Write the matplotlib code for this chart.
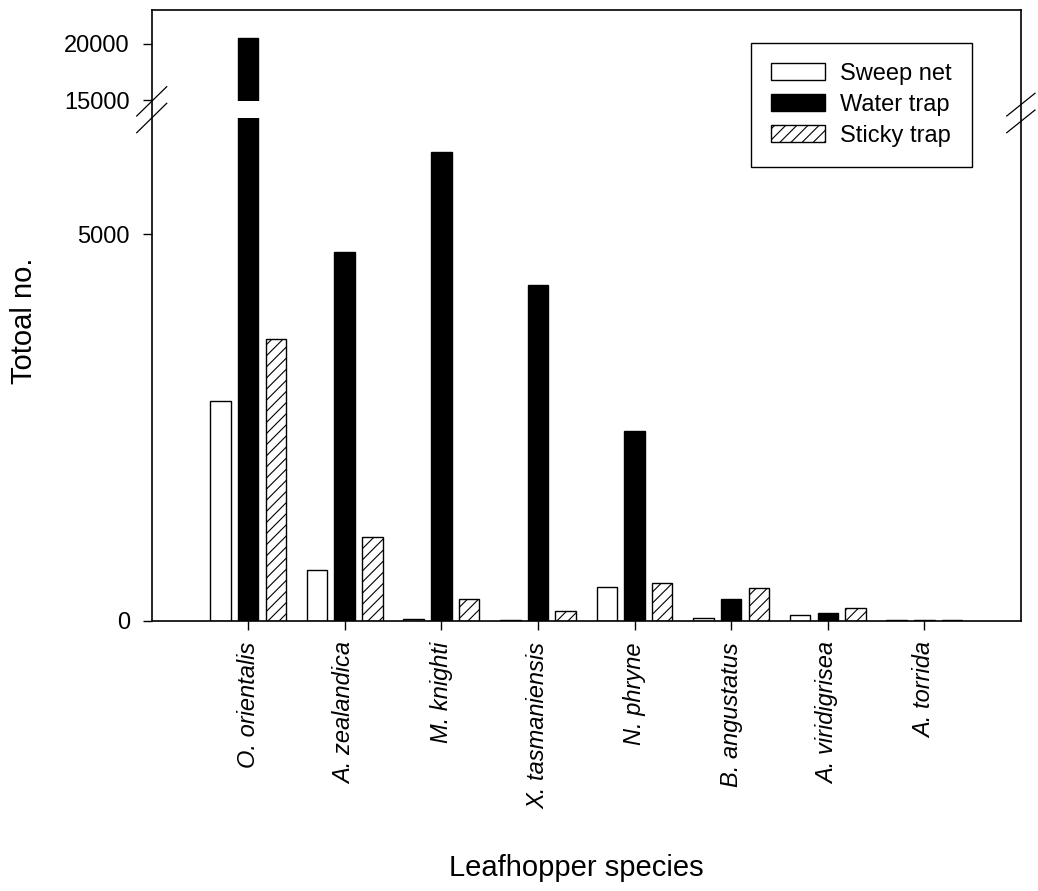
import numpy as np
import matplotlib
matplotlib.use("Agg")
import matplotlib.pyplot as plt
from matplotlib.patches import Rectangle
from matplotlib.lines import Line2D
import matplotlib.transforms as mtransforms

plt.rcParams['font.family'] = ['Liberation Sans', 'DejaVu Sans']
plt.rcParams['hatch.linewidth'] = 0.8

species = ["O. orientalis", "A. zealandica", "M. knighti", "X. tasmaniensis",
           "N. phryne", "B. angustatus", "A. viridigrisea", "A. torrida"]
sweep_net = [2840, 650, 15, 5, 430, 30, 75, 8]
water_trap = [20500, 4770, 6060, 4340, 2450, 280, 95, 12]
sticky_trap = [3640, 1075, 272, 117, 483, 424, 160, 8]
yticks = [0, 5000, 15000, 20000]

# broken (piecewise linear) y scale
lo_slope = 386 / 5000.0
hi_slope = 56.3 / 5000.0
bp_v = [-10000, 0, 6550, 14300, 60000]
bp_p = [-10000 * lo_slope, 0, 6550 * lo_slope, 520 - 700 * hi_slope, 520 + 45000 * hi_slope]

def fwd(v):
    return np.interp(v, bp_v, bp_p)

def inv(p):
    return np.interp(p, bp_p, bp_v)

fig = plt.figure(figsize=(10.38, 8.91), dpi=100)
ax = fig.add_axes([151.5 / 1038, (891 - 620.5) / 891, 869.5 / 1038, 610.5 / 891])
ax.set_yscale('function', functions=(fwd, inv))

x = np.arange(len(species))
off = 0.2865
w = 0.212
ax.bar(x - off, sweep_net, w, facecolor='white', edgecolor='black', linewidth=1.0, label='Sweep net', zorder=2)
ax.bar(x, water_trap, w, facecolor='black', edgecolor='black', linewidth=1.0, label='Water trap', zorder=2)
ax.bar(x + off, sticky_trap, w, facecolor='white', edgecolor='black', linewidth=1.0, hatch='///', label='Sticky trap', zorder=2)

ax.set_xlim(-1, 8)
ax.set_ylim(0, inv(610.0))
ax.set_yticks(yticks)
ax.set_yticklabels([str(t) for t in yticks])
ax.set_xticks(x)
ax.set_xticklabels(species, rotation=90, fontstyle='italic')
ax.tick_params(axis='both', direction='out', length=6.5, width=1.0, labelsize=17, pad=9)
for s in ax.spines.values():
    s.set_linewidth(1.2)

# white gap across the broken bar
blend = mtransforms.blended_transform_factory(ax.transData, ax.transAxes)
ax.add_patch(Rectangle((x[0] - w / 2 - 0.02, 0.8231), w + 0.04, 0.0274,
                       transform=blend, facecolor='white', edgecolor='none', zorder=3))

# break marks
for (x0, y0, x1, y1) in [(-0.0170, 0.8264, 0.0175, 0.8744), (-0.0170, 0.7990, 0.0175, 0.8472),
                         (0.9836, 0.8264, 1.0161, 0.8636), (0.9836, 0.7990, 1.0161, 0.8362)]:
    ax.add_line(Line2D([x0, x1], [y0, y1], transform=ax.transAxes, color='black',
                       linewidth=0.9, clip_on=False, zorder=5))

leg = ax.legend(loc='upper right', bbox_to_anchor=(972 / 1038, 1 - 43 / 891),
                bbox_transform=fig.transFigure, borderaxespad=0, fontsize=17,
                fancybox=False, edgecolor='black', framealpha=1,
                handlelength=2.3, handleheight=0.75, handletextpad=0.65,
                labelspacing=0.38, borderpad=0.85)
leg.get_frame().set_linewidth(1.0)

fig.text(24 / 1038, 1 - 321 / 891, 'Totoal no.', rotation=90, ha='center', va='center', fontsize=21)
fig.text(576 / 1038, 1 - 868 / 891, 'Leafhopper species', ha='center', va='center', fontsize=21)

fig.savefig('out.png', dpi=100)
